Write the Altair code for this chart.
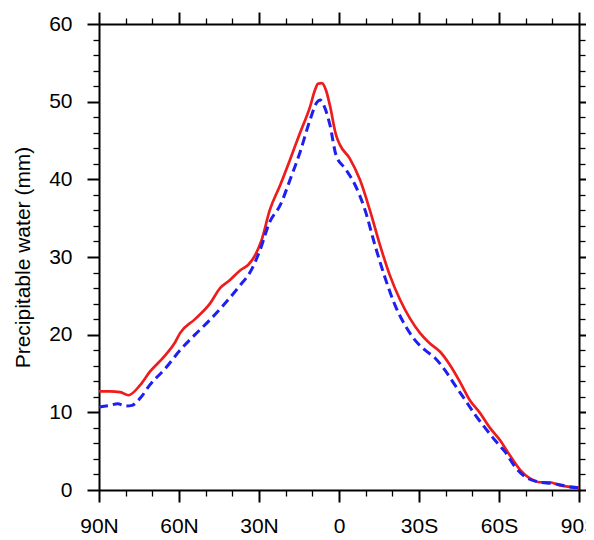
import altair as alt
import pandas as pd

# Red (solid) series: latitude (deg, + = N) and precipitable water (mm)
red_lat = [90, 86, 82, 79, 74.6, 71, 65, 61.5, 59.6, 54, 48.4, 44.6, 41, 37, 34, 31.5,
           29, 26, 22, 18.4, 14.6, 10.9, 9, 7.9, 6.4, 4.9, 3.4, 1.1, -0.4, -4, -7.9,
           -11.6, -15.4, -19, -22.9, -26.6, -30.4, -34, -37.9, -41.6, -45.4, -49,
           -52.9, -56.6, -60.4, -64, -67.9, -71.6, -75.4, -79, -82.9, -86.6, -90]
red_val = [12.7, 12.7, 12.6, 12.2, 13.5, 15.2, 17.4, 19.0, 20.2, 22.0, 24.0, 26.0,
           27.0, 28.3, 29.0, 30.2, 32.2, 36.0, 39.3, 42.5, 46.0, 49.3, 51.5, 52.3,
           52.4, 51.5, 49.5, 45.7, 44.4, 42.7, 39.9, 36.0, 31.5, 27.7, 24.5, 22.1,
           20.2, 18.9, 17.8, 16.1, 13.9, 11.6, 9.9, 8.0, 6.4, 4.5, 2.6, 1.5, 1.0,
           1.0, 0.6, 0.4, 0.3]

# Blue (dashed) series
blue_lat = [90, 85.9, 83, 80, 77.6, 74.6, 71, 65, 59.6, 54, 48.4, 42.8, 37, 33.4,
            29.6, 26, 22, 18.4, 14.6, 10.9, 8.3, 7.1, 5.3, 3.4, 1.1, -2.3, -6, -9.8,
            -13.5, -17.3, -21, -24.8, -28.5, -32.3, -36, -39.8, -43.5, -47.3, -51,
            -54.8, -58.5, -62.3, -66, -69.8, -75.4, -81, -86.6, -90]
blue_val = [10.7, 10.9, 11.1, 10.8, 10.9, 11.8, 13.5, 15.7, 18.0, 20.0, 21.9, 24.0,
            26.4, 28.0, 30.9, 34.5, 36.7, 39.9, 43.5, 47.6, 49.9, 50.2, 49.2, 47.0,
            43.1, 41.4, 39.3, 36.0, 31.5, 27.3, 23.8, 21.2, 19.3, 18.0, 17.0, 15.4,
            13.5, 11.6, 9.7, 8.0, 6.4, 4.9, 3.0, 1.7, 1.0, 0.8, 0.4, 0.3]

x_major = [90, 60, 30, 0, -30, -60, -90]
x_minor = [80, 70, 50, 40, 20, 10, -10, -20, -40, -50, -70, -80]
y_major = [0, 10, 20, 30, 40, 50, 60]
y_minor = [v for v in range(0, 61, 2) if v % 10 != 0]

y_title = "Precipitable water (mm)"

red_df = pd.DataFrame({"lat": red_lat, "pw": red_val})
blue_df = pd.DataFrame({"lat": blue_lat, "pw": blue_val})

FONT = "Liberation Sans"
xscale = alt.Scale(domain=[90, -90], nice=False, zero=False)
yscale = alt.Scale(domain=[0, 60], nice=False, zero=False)

lab_expr = "datum.value > 0 ? datum.value + 'N' : (datum.value < 0 ? (-datum.value) + 'S' : '0')"

common = dict(grid=False, domainColor="black", tickColor="black", labelColor="black",
              labelFont=FONT, titleFont=FONT, titleColor="black")

# Layer 1: red line, bottom/left major axes with labels
red = alt.Chart(red_df).mark_line(color="#ee1c1c", strokeWidth=2.7, interpolate="monotone").encode(
    x=alt.X("lat:Q", scale=xscale, axis=alt.Axis(orient="bottom", values=x_major, labelExpr=lab_expr,
            title=None, tickSize=12, tickWidth=2, domainWidth=2, labelFontSize=21,
            labelPadding=13, labelFlush=False, labelOverlap=False, **common)),
    y=alt.Y("pw:Q", scale=yscale, axis=alt.Axis(orient="left", values=y_major, title=y_title,
            tickSize=12, tickWidth=2, domainWidth=2, labelFontSize=21, labelPadding=15,
            titleFontSize=21, titleFontWeight="normal", titlePadding=15, **common)),
)

# Layer 2: blue dashed line, top/right major axes without labels
blue = alt.Chart(blue_df).mark_line(color="#1f1fef", strokeWidth=3, strokeDash=[9, 5],
                                    interpolate="monotone").encode(
    x=alt.X("lat:Q", scale=xscale, axis=alt.Axis(orient="top", values=x_major, labels=False,
            title=None, tickSize=12, tickWidth=2, domainWidth=2, **common)),
    y=alt.Y("pw:Q", scale=yscale, axis=alt.Axis(orient="right", values=y_major, labels=False,
            title=None, tickSize=12, tickWidth=2, domainWidth=2, **common)),
)

# Layers 3-4: invisible copies carrying minor-tick axes
minor1 = alt.Chart(red_df).mark_line(opacity=0).encode(
    x=alt.X("lat:Q", scale=xscale, axis=alt.Axis(orient="bottom", values=x_minor, labels=False,
            title=None, tickSize=6, tickWidth=1.3, domain=False, **common)),
    y=alt.Y("pw:Q", scale=yscale, axis=alt.Axis(orient="left", values=y_minor, labels=False,
            title=None, tickSize=6, tickWidth=1.3, domain=False, **common)),
)
minor2 = alt.Chart(red_df).mark_line(opacity=0).encode(
    x=alt.X("lat:Q", scale=xscale, axis=alt.Axis(orient="top", values=x_minor, labels=False,
            title=None, tickSize=6, tickWidth=1.3, domain=False, **common)),
    y=alt.Y("pw:Q", scale=yscale, axis=alt.Axis(orient="right", values=y_minor, labels=False,
            title=None, tickSize=6, tickWidth=1.3, domain=False, **common)),
)

chart = alt.layer(red, blue, minor1, minor2).resolve_axis(
    x="independent", y="independent"
).properties(
    width=480, height=466,
    autosize=alt.AutoSizeParams(type="none"),
    padding={"left": 91, "top": 16, "right": 7, "bottom": 50},
    background="white",
).configure_view(stroke=None)

chart.save("out.html", embed_options={"renderer": "svg", "actions": False})
